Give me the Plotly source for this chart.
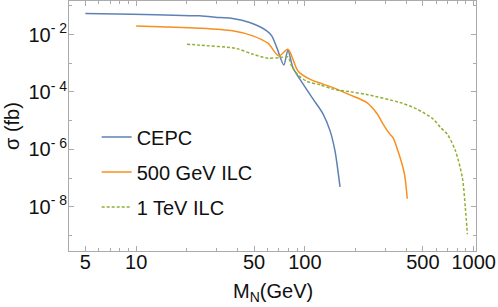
import plotly.graph_objects as go

# Data (M_N in GeV, sigma in fb)
cepc_m = [5, 9.5, 18.8, 23.8, 31.3, 37.3, 47.1, 59.4, 63.6, 68.2, 75.0, 79.3, 84.9,
          93.4, 111.6, 128, 141, 150.8, 157, 161.5]
cepc_s = [5.40e-2, 5.14e-2, 4.59e-2, 4.49e-2, 3.91e-2, 3.63e-2, 2.62e-2, 1.35e-2, 9.02e-3,
          3.52e-3, 8.79e-4, 2.86e-3, 7.08e-4, 2.82e-4, 5.75e-5, 1.73e-5, 4.42e-6, 8.87e-7,
          1.78e-7, 4.93e-8]

ilc500_m = [10, 18.8, 23.8, 37.3, 49.1, 60.3, 70.1, 79.3, 90.9, 107, 146.7, 185, 233, 268,
            290, 318, 333, 358, 376, 390, 398, 404]
ilc500_s = [2.01e-2, 1.75e-2, 1.67e-2, 1.35e-2, 9.02e-3, 5.01e-3, 1.81e-3, 3.10e-3, 5.43e-4,
            2.79e-4, 1.42e-4, 7.94e-5, 4.27e-5, 1.74e-5, 7.76e-6, 3.47e-6, 2.57e-6, 7.94e-7,
            3.16e-7, 1.26e-7, 5.01e-8, 1.91e-8]

ilc1t_m = [20, 23.8, 39.4, 49.1, 60.3, 71, 79.3, 83.4, 90.9, 102.8, 122.7, 146.7, 185, 233,
           367, 463, 577, 637, 698, 780, 857, 893, 918]
ilc1t_s = [4.63e-3, 4.28e-3, 3.25e-3, 2.07e-3, 1.51e-3, 1.58e-3, 1.67e-3, 8.13e-4, 3.98e-4,
           2.34e-4, 1.78e-4, 1.26e-4, 1.02e-4, 8.13e-5, 4.27e-5, 2.51e-5, 1.12e-5, 5.75e-6,
           3.39e-6, 8.91e-7, 1.05e-7, 9.33e-9, 1.11e-9]

series_names = ["CEPC", "500 GeV ILC", "1 TeV ILC"]
series_colors = ["#5E81B5", "#F7901E", "#8FB032"]

x_tick_vals = [5, 10, 50, 100, 500, 1000]
x_tick_text = ["5", "10", "50", "100", "500", "1000"]
x_minor_vals = [6, 7, 8, 9, 20, 30, 40, 60, 70, 80, 90, 200, 300, 400, 600, 700, 800, 900]
y_tick_vals = [1e-8, 1e-6, 1e-4, 1e-2]
y_tick_text = ["10<sup>- 8</sup>", "10<sup>- 6</sup>", "10<sup>- 4</sup>", "10<sup>- 2</sup>"]
y_minor_vals = [1e-9, 1e-7, 1e-5, 1e-3, 1e-1]

fig = go.Figure()
data = [(cepc_m, cepc_s, "solid"), (ilc500_m, ilc500_s, "solid"), (ilc1t_m, ilc1t_s, "3px,2px")]
for i, (m, s, dash) in enumerate(data):
    fig.add_trace(go.Scatter(
        x=m, y=s, mode="lines", name=series_names[i], legendgroup=series_names[i],
        line=dict(color=series_colors[i], width=1.5, dash=dash, shape="spline", smoothing=0.8),
    ))

axis_col = "#ABABAB"
font_fam = "Liberation Sans, Arial, sans-serif"
fig.update_layout(
    template="none",
    width=498, height=307,
    margin=dict(l=69, r=22, t=1, b=56),
    paper_bgcolor="white", plot_bgcolor="white",
    font=dict(family=font_fam, size=20, color="#111111"),
    showlegend=True,
    legend=dict(x=0.068, y=0.534, xanchor="left", yanchor="top",
                bgcolor="rgba(0,0,0,0)", font=dict(size=20),
                traceorder="grouped", tracegroupgap=6),
    xaxis=dict(type="log", range=[0.602, 3.014], showgrid=False, zeroline=False,
               automargin=False,
               showline=True, linecolor=axis_col, linewidth=1, mirror="ticks",
               ticks="inside", ticklen=5, tickcolor=axis_col,
               tickvals=x_tick_vals, ticktext=x_tick_text, ticklabelstandoff=-7,
               minor=dict(tickvals=x_minor_vals, ticks="inside", ticklen=3, tickcolor=axis_col),
               tickfont=dict(size=20)),
    yaxis=dict(type="log", range=[-9.54, -0.83], showgrid=False, zeroline=False,
               automargin=False,
               showline=True, linecolor=axis_col, linewidth=1, mirror="ticks",
               ticks="inside", ticklen=5, tickcolor=axis_col,
               tickvals=y_tick_vals, ticktext=y_tick_text,
               ticklabelstandoff=-3,
               minor=dict(tickvals=y_minor_vals, ticks="inside", ticklen=3, tickcolor=axis_col),
               tickfont=dict(size=20)),
    annotations=[
        dict(text="M<sub>N</sub>(GeV)", xref="paper", yref="paper", x=0.5, y=0,
             xanchor="center", yanchor="top", yshift=-27, showarrow=False,
             font=dict(size=20)),
        dict(text="σ (fb)", xref="paper", yref="paper", x=0, y=0.5, textangle=-90,
             xanchor="center", yanchor="middle", xshift=-57, showarrow=False,
             font=dict(size=20)),
    ],
)

fig.write_html("out.html", config={"displayModeBar": False},
               post_script="document.body.style.margin='0';")
